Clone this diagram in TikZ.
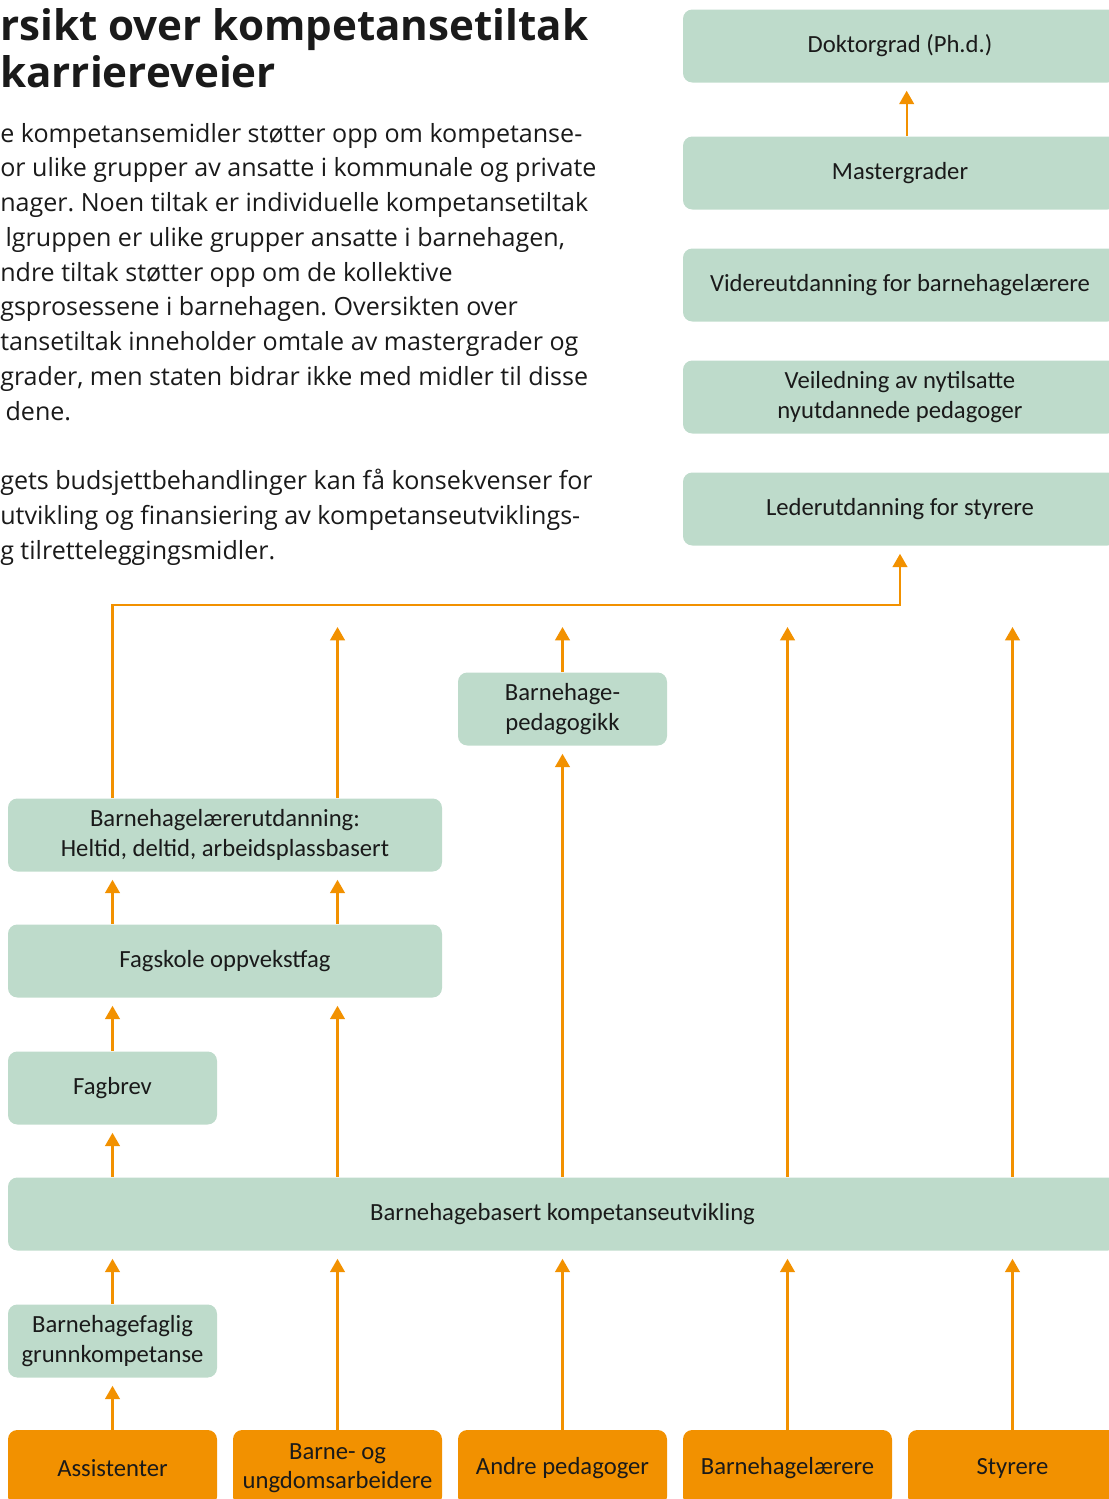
\documentclass[tikz,border=0pt]{standalone}
\usepackage{fontspec}
\setmainfont{Open Sans}
\newfontfamily\diafont{Carlito}
\usepackage{xcolor}
\usepackage{tikz}
\usetikzlibrary{arrows.meta}
\frenchspacing

\definecolor{gronn}{RGB}{190,219,203}
\definecolor{oransje}{RGB}{242,145,0}
\definecolor{tekst}{RGB}{26,26,26}

\tikzset{
  boks/.style={rounded corners=7pt, inner sep=0pt, align=center,
    font=\diafont\fontsize{18.5}{22}\selectfont, text=tekst,
    minimum height=54.75pt},
  tiltak/.style={boks, fill=gronn},
  gruppe/.style={boks, fill=oransje, minimum height=57pt},
  pil/.style={draw=oransje, line width=1.6pt, shorten >=6pt,
    -{Triangle[length=10pt, width=11pt]}},
  linje/.style={anchor=base west, inner sep=0pt, text=tekst,
    font=\fontsize{18.8}{26}\selectfont},
}

\begin{document}
\begin{tikzpicture}[x=0.75pt, y=-0.75pt]
\useasboundingbox (0,0) rectangle (1109,1499);
\clip (0,0) rectangle (1109,1499);

% overskrift og ingress
\node[linje, font=\bfseries\fontsize{31.6}{40}\selectfont] (tittel1) at (0,40) {rsikt over kompetansetiltak};
\node[linje, font=\bfseries\fontsize{31.6}{40}\selectfont] (tittel2) at (0,87) {karriereveier};

\foreach \tekstlinje [count=\i] in {
  {e kompetansemidler støtter opp om kompetanse-},
  {or ulike grupper av ansatte i kommunale og private},
  {nager. Noen tiltak er individuelle kompetansetiltak},
  {\hspace{4pt}lgruppen er ulike grupper ansatte i barnehagen,},
  {ndre tiltak støtter opp om de kollektive},
  {gsprosessene i barnehagen. Oversikten over},
  {tansetiltak inneholder omtale av mastergrader og},
  {grader, men staten bidrar ikke med midler til disse},
  {\hspace{4pt}dene.},
  {},
  {gets budsjettbehandlinger kan få konsekvenser for},
  {utvikling og finansiering av kompetanseutviklings-},
  {g tilretteleggingsmidler.}}
  \node[linje] (ingress\i) at (0,{142+(\i-1)*34.75}) {\tekstlinje};

% høyre kolonne
\node[tiltak, minimum width=325.5pt] (doktor) at (900,46) {Doktorgrad (Ph.d.)};
\node[tiltak, minimum width=325.5pt] (master) at (900,173) {Mastergrader};
\node[tiltak, minimum width=325.5pt] (videre) at (900,285) {Videreutdanning for barnehagelærere};
\node[tiltak, minimum width=325.5pt] (veiled) at (900,397) {Veiledning av nytilsatte\\nyutdannede pedagoger};
\node[tiltak, minimum width=325.5pt] (leder) at (900,509) {Lederutdanning for styrere};

% midtre del
\node[tiltak, minimum width=156.75pt] (pedag) at (562.5,709) {Barnehage-\\pedagogikk};
\node[tiltak, minimum width=325.5pt] (blu) at (225,835) {Barnehagelærerutdanning:\\Heltid, deltid, arbeidsplassbasert};
\node[tiltak, minimum width=325.5pt] (fagskole) at (225,961) {Fagskole oppvekstfag};
\node[tiltak, minimum width=156.75pt] (fagbrev) at (112.5,1088) {Fagbrev};
\node[tiltak, minimum width=831.75pt] (bbk) at (562.5,1214) {Barnehagebasert kompetanseutvikling};
\node[tiltak, minimum width=156.75pt] (grunn) at (112.5,1341) {Barnehagefaglig\\grunnkompetanse};

% ansattgrupper
\node[gruppe, minimum width=156.75pt] (assist) at (112.5,1468) {Assistenter};
\node[gruppe, minimum width=156.75pt] (barne) at (337.5,1468) {Barne- og\\ungdomsarbeidere};
\node[gruppe, minimum width=156.75pt] (andre) at (562.5,1468) {Andre pedagoger};
\node[gruppe, minimum width=156.75pt] (bhl) at (787.5,1468) {Barnehagelærere};
\node[gruppe, minimum width=156.75pt] (styrer) at (1012.5,1468) {Styrere};

\coordinate (fri) at (0,619);
\coordinate (knekk) at (900,605);

% piler
\draw[pil] ([xshift=5pt]master.north) -- ([xshift=5pt]doktor.south);
\draw[pil] (assist.north) -- (grunn.south);
\draw[pil] (barne.north) -- (barne.north |- bbk.south);
\draw[pil] (andre.north) -- (andre.north |- bbk.south);
\draw[pil] (bhl.north) -- (bhl.north |- bbk.south);
\draw[pil] (styrer.north) -- (styrer.north |- bbk.south);
\draw[pil] (grunn.north) -- (grunn.north |- bbk.south);
\draw[pil] (fagbrev.north |- bbk.north) -- (fagbrev.south);
\draw[pil] (barne.north |- bbk.north) -- (barne.north |- fagskole.south);
\draw[pil] (andre.north |- bbk.north) -- (pedag.south);
\draw[pil] (bhl.north |- bbk.north) -- (bhl.north |- fri);
\draw[pil] (styrer.north |- bbk.north) -- (styrer.north |- fri);
\draw[pil] (fagbrev.north) -- (fagbrev.north |- fagskole.south);
\draw[pil] (fagbrev.north |- fagskole.north) -- (fagbrev.north |- blu.south);
\draw[pil] (barne.north |- fagskole.north) -- (barne.north |- blu.south);
\draw[pil] (barne.north |- blu.north) -- (barne.north |- fri);
\draw[pil] (pedag.north) -- (pedag.north |- fri);
\draw[pil] (fagbrev.north |- blu.north) |- (knekk) -- (leder.south);

\end{tikzpicture}
\end{document}
